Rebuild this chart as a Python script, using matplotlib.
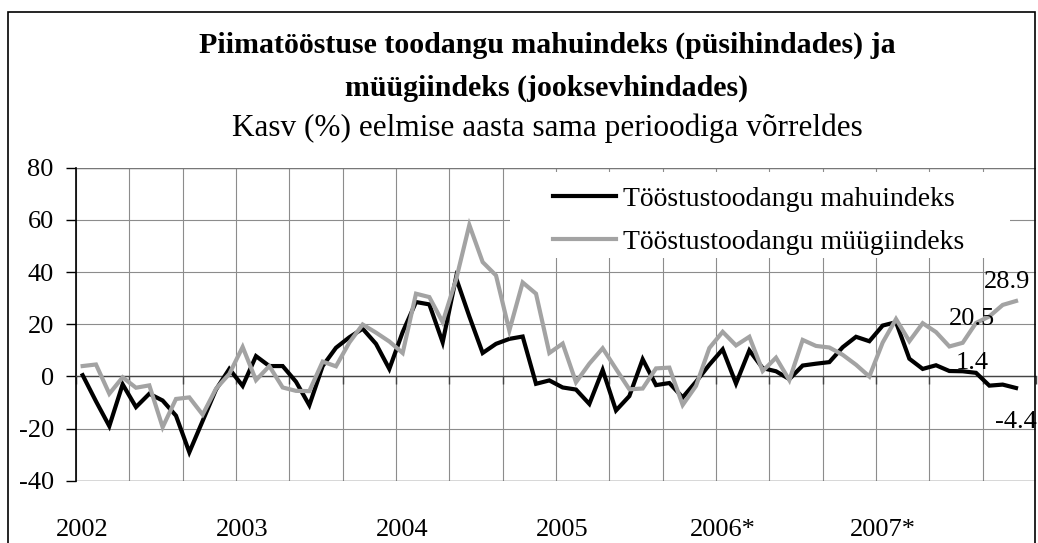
import numpy as np
import matplotlib
matplotlib.use("Agg")
import matplotlib.pyplot as plt
import matplotlib.transforms as mtransforms
from matplotlib.patches import Rectangle

# monthly data Jan 2002 .. Nov 2007, % change vs same period previous year
volume = [0.5, -9.5, -19, -3, -11.7, -6.6, -9.2, -15, -29, -17, -5, 2.9,
          -3.6, 7.8, 4, 4, -2, -11, 4, 11, 15, 18.3, 12.5, 2.9,
          17, 28.5, 27.6, 13.1, 37.8, 23, 9, 12.5, 14.4, 15.3, -2.8, -1.5,
          -4.2, -5, -10.5, 2.5, -13, -7.5, 6.6, -3.3, -2.5, -8, -2, 4.5,
          10.4, -2.7, 10, 3.2, 2, -1, 4.2, 4.9, 5.5, 11.2, 15.2, 13.5,
          19.5, 20.8, 6.8, 2.9, 4.3, 2.1, 2.0, 1.4, -3.5, -3.1, -4.4]
sales = [4, 4.6, -6.6, -0.3, -4.3, -3.4, -19.4, -8.6, -8, -14.6, -4.7, 1,
         11.3, -1.4, 4, -4.2, -5.5, -5.6, 5.7, 3.9, 13, 19.9, 16.8, 13.4,
         9, 31.7, 30.4, 20.8, 37, 58, 43.8, 38.7, 17.6, 36, 31.7, 9,
         12.6, -2.2, 4.9, 10.8, 2.9, -4.9, -4.6, 3.1, 3.4, -10.9, -3.6, 10.9,
         17.1, 11.9, 15.2, 2.1, 7.2, -1.4, 14, 11.7, 11.1, 8.3, 4.5, 0,
         13, 22, 13.5, 20.4, 17, 11.5, 12.9, 20.5, 23, 27.4, 28.9]
years = ["2002", "2003", "2004", "2005", "2006*", "2007*"]
n_cats = 72

plt.rcParams["font.family"] = ["Liberation Serif", "DejaVu Serif"]
plt.rcParams["axes.unicode_minus"] = False

fig = plt.figure(figsize=(10.38, 5.43), dpi=100)
ax = fig.add_axes([0.0732, 0.1142, 0.9249, 0.5773])

x = np.arange(len(volume))
ax.plot(x, volume, color="black", lw=3.0, solid_joinstyle="miter", zorder=4,
        label="Tööstustoodangu mahuindeks")
ax.plot(x, sales, color="#a3a3a3", lw=3.0, solid_joinstyle="miter", zorder=5,
        label="Tööstustoodangu müügiindeks")

ax.set_xlim(-0.5, n_cats - 0.5)
ax.set_ylim(-40, 80)
ax.set_yticks(range(-40, 81, 20))
ax.set_xticks(np.arange(-0.5, n_cats, 4))
ax.set_xticklabels([])
ax.grid(True, color="#8c8c8c", lw=0.8, zorder=0)
ax.set_axisbelow(True)

for s in ["top", "right"]:
    ax.spines[s].set_visible(False)
ax.spines["left"].set_color("black")
ax.spines["left"].set_linewidth(1.2)
ax.spines["bottom"].set_position(("data", 0))
ax.spines["bottom"].set_color("#444444")
ax.spines["bottom"].set_linewidth(1.0)
ax.axhline(-40, color="#555555", lw=1.0, zorder=1)
ax.axhline(80, color="#777777", lw=1.0, zorder=1)

ax.tick_params(axis="y", direction="out", length=7, width=1, pad=9,
               labelsize=19)
ax.tick_params(axis="x", direction="out", length=6, width=1, color="#444444")

# year labels under the plot
trans = mtransforms.blended_transform_factory(ax.transData, ax.transAxes)
for k, yr in enumerate(years):
    ax.text(k * 12, -0.121, yr, transform=trans, ha="center", va="top",
            fontsize=19)

# legend background
ax.add_patch(Rectangle((0.452, 0.711), 0.521, 0.275, transform=ax.transAxes,
                       facecolor="white", edgecolor="none", zorder=2))
ax.legend(loc="upper left", bbox_to_anchor=(0.497, 0.94), frameon=False,
          borderpad=0, borderaxespad=0,
          fontsize=20, handlelength=2.25, handletextpad=0.25, labelspacing=0.63)

# data labels
ax.text(66.7, 22.2, "20.5", ha="center", va="center", fontsize=19, zorder=6)
ax.text(66.7, 5.0, "1.4", ha="center", va="center", fontsize=19, zorder=6)
ax.text(69.3, 36.1, "28.9", ha="center", va="center", fontsize=19, zorder=6)
ax.text(70.0, -17.5, "-4.4", ha="center", va="center", fontsize=19, zorder=6)

# titles
fig.text(0.527, 0.917, "Piimatööstuse toodangu mahuindeks (püsihindades) ja",
         ha="center", va="center", fontsize=21.5, fontweight="bold")
fig.text(0.527, 0.838, "müügiindeks (jooksevhindades)",
         ha="center", va="center", fontsize=21.5, fontweight="bold")
fig.text(0.527, 0.764, "Kasv (%) eelmise aasta sama perioodiga võrreldes",
         ha="center", va="center", fontsize=22.5)

# chart border
fig.add_artist(Rectangle((8 / 1038, -0.1), (1035 - 8) / 1038, 1 - 12 / 543 + 0.1,
                         transform=fig.transFigure, facecolor="none",
                         edgecolor="black", lw=1.2))

fig.savefig("out.png", dpi=100)
